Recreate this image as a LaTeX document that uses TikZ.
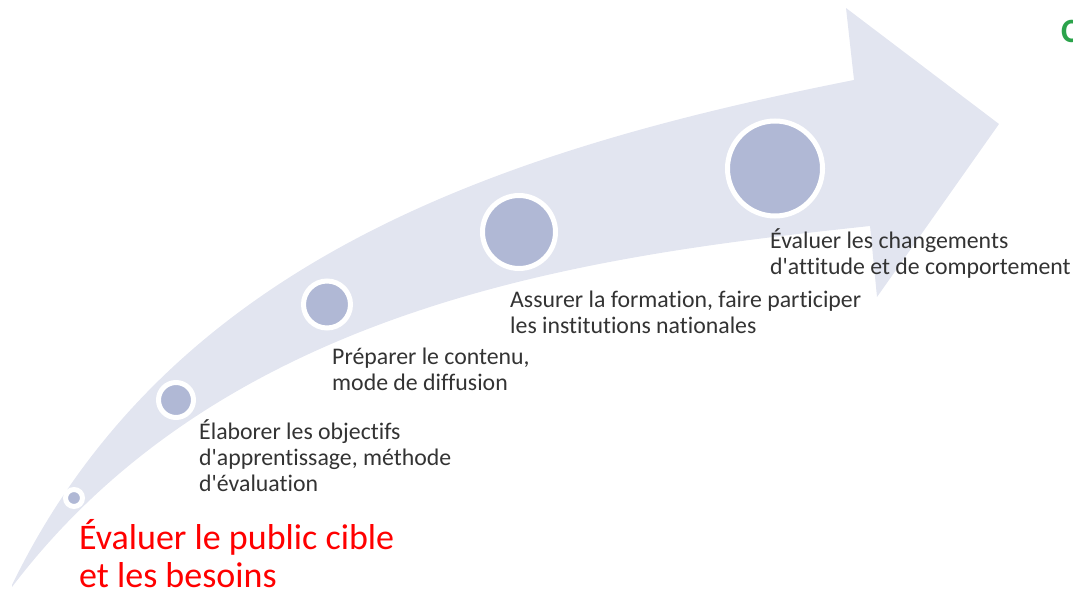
\documentclass[tikz,border=0pt]{standalone}
\usepackage{fontspec}
\setmainfont{Carlito}[Ligatures={TeXOff,NoCommon}]
\definecolor{arrowfill}{HTML}{E2E5F0}
\definecolor{dotfill}{HTML}{B0B8D5}
\definecolor{txtgray}{HTML}{333333}
\definecolor{redtxt}{HTML}{FF0000}
\definecolor{greentxt}{HTML}{2BA34B}
\begin{document}
\begin{tikzpicture}[x=1pt,y=-1pt,
  dot/.style={circle,fill=dotfill,draw=white,line width=5pt,inner sep=0pt},
  steptext/.style={anchor=base west,align=left,inner sep=0pt,text=txtgray,
    font=\fontsize{23.8}{26}\selectfont},
  maintext/.style={anchor=base west,align=left,inner sep=0pt,text=redtxt,
    font=\fontsize{36}{38}\selectfont}]
\useasboundingbox (0,0) rectangle (1073,593);
\clip (0,0) rectangle (1073,593);
% curved arrow
\fill[arrowfill] (12,585) .. controls (170,260) and (500,150) .. (854,80)
  -- (846,8) -- (999,124) -- (877,297) -- (870,226)
  .. controls (600,255) and (230,300) .. (12,587) -- cycle;
% dots
\node[dot,minimum size=17pt] (dot1) at (74,498) {};
\node[dot,minimum size=35pt] (dot2) at (176,400) {};
\node[dot,minimum size=47pt] (dot3) at (327,304.5) {};
\node[dot,minimum size=73pt] (dot4) at (519,232) {};
\node[dot,minimum size=95pt] (dot5) at (775,168.5) {};
% labels (anchored at the baseline of their last line)
\node[maintext] (lbl1) at (79,587.5) {Évaluer le public cible\\et les besoins};
\node[steptext] (lbl2) at (199,491) {Élaborer les objectifs\\d'apprentissage, méthode\\d'évaluation};
\node[steptext] (lbl3) at (332,390) {Préparer le contenu,\\mode de diffusion};
\node[steptext] (lbl4) at (510,333.5) {Assurer la formation, faire participer\\les institutions nationales};
\node[steptext] (lbl5) at (770,275) {Évaluer les changements\\d'attitude et de comportement};
\node[anchor=base west,inner sep=0pt,text=greentxt,font=\fontsize{34}{40}\selectfont\bfseries] (cut) at (1061,43) {C};
\end{tikzpicture}
\end{document}
